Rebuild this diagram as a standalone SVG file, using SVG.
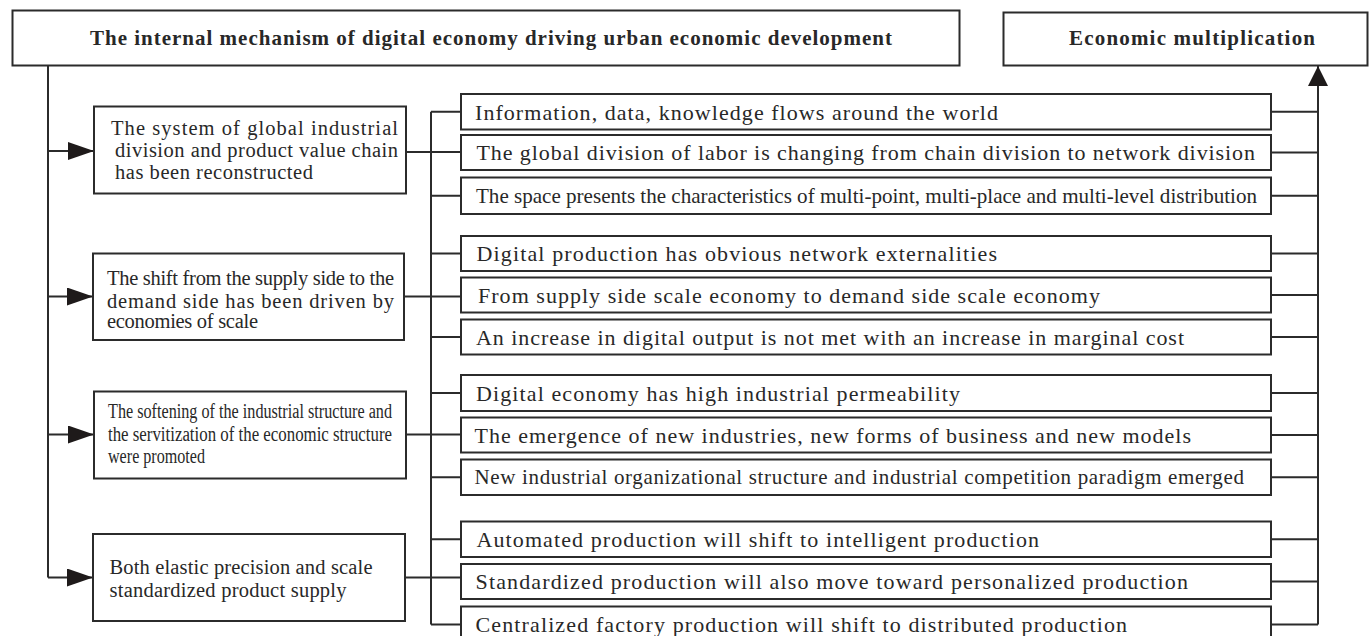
<svg xmlns="http://www.w3.org/2000/svg" width="1371" height="636" viewBox="0 0 1371 636">
<defs>
<style>
.box{fill:#fff;stroke:#2b2b2b;stroke-width:2}
.ln{fill:none;stroke:#2b2b2b;stroke-width:2}
text{font-family:"Liberation Serif","Times New Roman",serif;fill:#282828}
.ttl{font-size:21px;font-weight:bold}
.lt{font-size:20.5px}
.rt{font-size:22px}
.rs{font-size:21px}
</style>
<marker id="arrR" markerUnits="userSpaceOnUse" markerWidth="26" markerHeight="18" refX="26" refY="9" orient="auto">
<path d="M0,0 L26,9 L0,18 Z" fill="#1e1a1a"/>
</marker>
<marker id="arrU" markerUnits="userSpaceOnUse" markerWidth="20" markerHeight="20" refX="20" refY="10" orient="auto">
<path d="M0,0 L20,10 L0,20 Z" fill="#1e1a1a"/>
</marker>
</defs>
<rect width="1371" height="636" fill="#fff"/>

<g id="connectors">
<path class="ln" d="M48,65 V577.5"/>
<path class="ln" d="M48,151 H94" marker-end="url(#arrR)"/>
<path class="ln" d="M48,296.5 H93" marker-end="url(#arrR)"/>
<path class="ln" d="M48,434.5 H94" marker-end="url(#arrR)"/>
<path class="ln" d="M48,577.5 H93" marker-end="url(#arrR)"/>
<path class="ln" d="M406,152 H461 M404,296.5 H461 M406,434.5 H461 M405,577.5 H461"/>
<path class="ln" d="M431,111.75 V624.5"/>
<path class="ln" d="M431,111.75 H461 M431,195.75 H461 M431,253.5 H461 M431,337 H461 M431,393 H461 M431,477.25 H461 M431,539.25 H461 M431,624.5 H461"/>
<path class="ln" d="M1271,111.75 H1318 M1271,152.5 H1318 M1271,195.75 H1318 M1271,253.5 H1318 M1271,295 H1318 M1271,337 H1318 M1271,393 H1318 M1271,435 H1318 M1271,477.25 H1318 M1271,539.25 H1318 M1271,581.5 H1318 M1271,624.5 H1318"/>
<path class="ln" d="M1318,624.5 V66" marker-end="url(#arrU)"/>
</g>

<g id="title">
<rect class="box" x="12.5" y="10.5" width="947" height="55"/>
<text class="ttl" x="90" y="44.5" textLength="802" lengthAdjust="spacing">The internal mechanism of digital economy driving urban economic development</text>
</g>
<g id="econ">
<rect class="box" x="1003.5" y="12.5" width="364" height="53"/>
<text class="ttl" x="1069" y="44.5" textLength="246" lengthAdjust="spacing">Economic multiplication</text>
</g>

<g id="left1">
<rect class="box" x="94" y="106.5" width="312" height="87"/>
<text class="lt" x="111" y="134.5" textLength="287" lengthAdjust="spacing">The system of global industrial</text>
<text class="lt" x="115" y="157" textLength="283" lengthAdjust="spacing">division and product value chain</text>
<text class="lt" x="115" y="179" textLength="198" lengthAdjust="spacing">has been reconstructed</text>
</g>
<g id="left2">
<rect class="box" x="93" y="253.5" width="311" height="86.5"/>
<text class="lt" x="107" y="285" textLength="287" lengthAdjust="spacing">The shift from the supply side to the</text>
<text class="lt" x="107" y="307.5" textLength="287" lengthAdjust="spacing">demand side has been driven by</text>
<text class="lt" x="107" y="328" textLength="151" lengthAdjust="spacing">economies of scale</text>
</g>
<g id="left3">
<rect class="box" x="94" y="391.5" width="312" height="87"/>
<text class="lt" x="108" y="418" textLength="284" lengthAdjust="spacingAndGlyphs">The softening of the industrial structure and</text>
<text class="lt" x="108" y="440.5" textLength="284" lengthAdjust="spacingAndGlyphs">the servitization of the economic structure</text>
<text class="lt" x="108" y="462.5" textLength="97" lengthAdjust="spacingAndGlyphs">were promoted</text>
</g>
<g id="left4">
<rect class="box" x="93" y="534" width="312" height="87"/>
<text class="lt" x="109.5" y="574" textLength="263" lengthAdjust="spacing">Both elastic precision and scale</text>
<text class="lt" x="109.5" y="596.5" textLength="237" lengthAdjust="spacing">standardized product supply</text>
</g>

<g id="r1"><rect class="box" x="461" y="94" width="810" height="35.5"/>
<text class="rt" x="475" y="119.5" textLength="523" lengthAdjust="spacing">Information, data, knowledge flows around the world</text></g>
<g id="r2"><rect class="box" x="461" y="135" width="810" height="35"/>
<text class="rt" x="476.5" y="160" textLength="778.5" lengthAdjust="spacing">The global division of labor is changing from chain division to network division</text></g>
<g id="r3"><rect class="box" x="461" y="177.5" width="810" height="36.5"/>
<text class="rt" x="476" y="203" textLength="781" lengthAdjust="spacingAndGlyphs">The space presents the characteristics of multi-point, multi-place and multi-level distribution</text></g>
<g id="r4"><rect class="box" x="461" y="236" width="810" height="35"/>
<text class="rt" x="476.5" y="261" textLength="520.5" lengthAdjust="spacing">Digital production has obvious network externalities</text></g>
<g id="r5"><rect class="box" x="461" y="277.5" width="810" height="35"/>
<text class="rt" x="478" y="302.5" textLength="622" lengthAdjust="spacing">From supply side scale economy to demand side scale economy</text></g>
<g id="r6"><rect class="box" x="461" y="319.5" width="810" height="35"/>
<text class="rt" x="476" y="344.5" textLength="708" lengthAdjust="spacing">An increase in digital output is not met with an increase in marginal cost</text></g>
<g id="r7"><rect class="box" x="461" y="375" width="810" height="36"/>
<text class="rt" x="476" y="400.5" textLength="484" lengthAdjust="spacing">Digital economy has high industrial permeability</text></g>
<g id="r8"><rect class="box" x="461" y="417.5" width="810" height="35"/>
<text class="rt" x="474.5" y="442.5" textLength="716.5" lengthAdjust="spacing">The emergence of new industries, new forms of business and new models</text></g>
<g id="r9"><rect class="box" x="461" y="459.5" width="810" height="35.5"/>
<text class="rs" x="474.5" y="484" textLength="769.5" lengthAdjust="spacing">New industrial organizational structure and industrial competition paradigm emerged</text></g>
<g id="r10"><rect class="box" x="461" y="521.5" width="810" height="35.5"/>
<text class="rt" x="476.5" y="546.5" textLength="562.5" lengthAdjust="spacing">Automated production will shift to intelligent production</text></g>
<g id="r11"><rect class="box" x="461" y="564" width="810" height="35"/>
<text class="rt" x="475.5" y="589" textLength="712.5" lengthAdjust="spacing">Standardized production will also move toward personalized production</text></g>
<g id="r12"><rect class="box" x="461" y="606.5" width="810" height="36"/>
<text class="rt" x="475.5" y="631.5" textLength="651.5" lengthAdjust="spacing">Centralized factory production will shift to distributed production</text></g>
</svg>
